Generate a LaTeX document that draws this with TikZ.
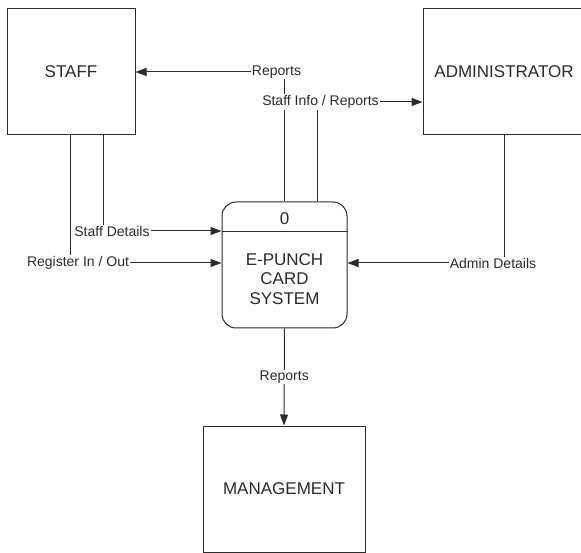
\documentclass[tikz,border=0pt]{standalone}
\usepackage{fontspec}
\setmainfont{Liberation Sans}
\usetikzlibrary{arrows.meta,positioning}
\definecolor{ink}{HTML}{2B2B2B}
\tikzset{
  every node/.style={font=\fontsize{17}{19.5}\selectfont, text=ink},
  entity/.style={draw=ink, line width=1pt, fill=white, align=center},
  process/.style={draw=ink, line width=1pt, rounded corners=14pt, fill=white, minimum width=125pt, minimum height=126pt},
  flow/.style={-{Triangle[length=11pt,width=8pt]}, line width=1pt, draw=ink},
  flowlabel/.style={font=\fontsize{14}{16}\selectfont, fill=white, inner sep=1pt},
}
\begin{document}
\begin{tikzpicture}[x=1pt,y=-1pt]
\useasboundingbox (0,0) rectangle (581,553);
\node[entity, minimum width=128pt, minimum height=126pt] (staff) at (71,72) {STAFF};
\node[entity, minimum width=162pt, minimum height=126pt] (admin) at (504,72) {ADMINISTRATOR};
\node[process] (sys) at (284.5,265) {};
\draw[ink, line width=1pt] ([yshift=-30pt]sys.north west) -- ([yshift=-30pt]sys.north east);
\node (sysid) at ([yshift=-17pt]sys.north) {0};
\node[align=center] (sysname) at ([yshift=-14pt]sys.center) {E-PUNCH\\CARD\\SYSTEM};
\node[entity, minimum width=162pt, minimum height=126pt] (mgmt) at (284,489) {MANAGEMENT};
% flows
\draw[flow] (sys.north) |- node[flowlabel, xshift=-8pt] (lrep) {Reports} (staff.east);
\draw[flow] ([xshift=33pt]sys.north) |- node[flowlabel, xshift=3pt] (linfo) {Staff Info / Reports} ([yshift=-30pt]admin.west);
\draw[flow] ([xshift=32pt]staff.south) |- node[flowlabel, xshift=9pt] (ldet) {Staff Details} ([yshift=34pt]sys.west);
\draw[flow] ([xshift=-1pt]staff.south) |- node[flowlabel, xshift=8pt] (lreg) {Register In / Out} ([yshift=2pt]sys.west);
\draw[flow] (admin.south) |- node[flowlabel, xshift=-11pt] (ladm) {Admin Details} ([yshift=2pt]sys.east);
\draw[flow] (sys.south) -- node[flowlabel] (lmgmt) {Reports} (mgmt.north);
\end{tikzpicture}
\end{document}
